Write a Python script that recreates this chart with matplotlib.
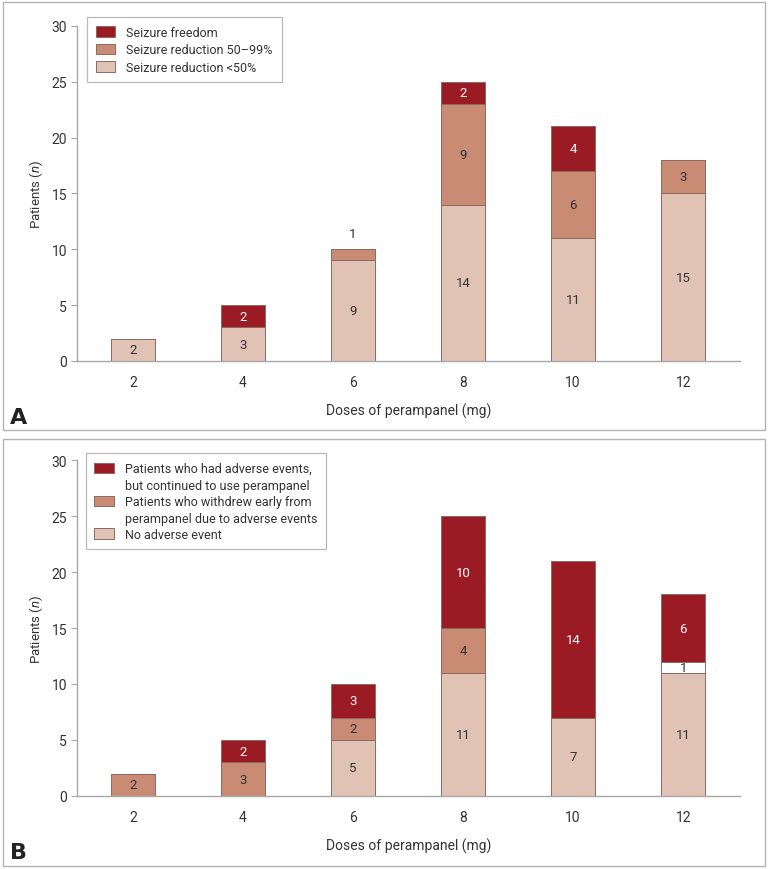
import numpy as np
import matplotlib
matplotlib.use('Agg')
import matplotlib.pyplot as plt
from matplotlib.patches import Rectangle

plt.rcParams['font.family'] = ['Roboto', 'DejaVu Sans']
plt.rcParams['mathtext.fontset'] = 'custom'
plt.rcParams['mathtext.it'] = 'Roboto:italic'
plt.rcParams['mathtext.rm'] = 'Roboto'

doses = ['2', '4', '6', '8', '10', '12']

# panel A: seizure outcome
a_below50 = [2, 3, 9, 14, 11, 15]
a_reduction = [0, 0, 1, 9, 6, 3]
a_freedom = [0, 2, 0, 2, 4, 0]
a_labels = ['Seizure freedom', 'Seizure reduction 50\u201399%', 'Seizure reduction <50%']

# panel B: adverse events
b_no_ae = [0, 0, 5, 11, 7, 11]
b_withdrew = [2, 3, 2, 4, 0, 0]
b_other = [0, 0, 0, 0, 0, 1]
b_continued = [0, 2, 3, 10, 14, 6]
b_labels = ['Patients who had adverse events,\nbut continued to use perampanel',
            'Patients who withdrew early from\nperampanel due to adverse events',
            'No adverse event']

DARK = '#9a1b24'
MID = '#c98b74'
LIGHT = '#e1c3b5'
EDGE = '#8c6a62'
GREY = '#a8a8a8'
TXT = '#333333'

fig = plt.figure(figsize=(7.68, 8.7), dpi=100)

# panel frames
for y0, h in [(0.505, 0.4916), (0.0034, 0.4906)]:
    fig.patches.append(Rectangle((0.004, y0), 0.992, h, transform=fig.transFigure,
                                 fill=False, edgecolor='#b4b4b4', linewidth=1.0))

axA = fig.add_axes([0.100, 0.584, 0.864, 0.385])
axB = fig.add_axes([0.100, 0.084, 0.864, 0.386])

x = np.arange(len(doses))
w = 0.4


def seg_label(ax, xi, bottom, val, color, above=False):
    if val == 0:
        return
    if above:
        ax.text(xi, bottom + val + 0.8, str(val), ha='center', va='bottom', fontsize=9.5, color=TXT)
    else:
        ax.text(xi, bottom + val / 2, str(val), ha='center', va='center', fontsize=9.5, color=color)


def style(ax):
    ax.set_xlim(-0.51, 5.52)
    ax.set_ylim(0, 30)
    ax.set_yticks(range(0, 31, 5))
    ax.set_xticks(x)
    ax.set_xticklabels(doses)
    for s in ['top', 'right']:
        ax.spines[s].set_visible(False)
    for s in ['left', 'bottom']:
        ax.spines[s].set_color(GREY)
        ax.spines[s].set_linewidth(1.0)
    ax.tick_params(axis='y', colors=GREY, labelcolor=TXT, labelsize=10, length=4, width=0.8, pad=3)
    ax.tick_params(axis='x', length=0, labelcolor=TXT, labelsize=10, pad=10)
    ax.set_ylabel('Patients ($\\it{n}$)', fontsize=9.5, color=TXT, labelpad=5)
    ax.set_xlabel('Doses of perampanel (mg)', fontsize=10, color=TXT, labelpad=10)


leg_kw = dict(loc='upper left', fontsize=9, frameon=True, fancybox=False, edgecolor=GREY,
              handlelength=1.55, handleheight=0.95, handletextpad=0.9, borderpad=0.7,
              labelcolor=TXT)

# ---- panel A ----
b0 = np.zeros(len(doses))
hA3 = axA.bar(x, a_below50, w, bottom=b0, color=LIGHT, edgecolor=EDGE, linewidth=0.7)
b1 = b0 + a_below50
hA2 = axA.bar(x, a_reduction, w, bottom=b1, color=MID, edgecolor=EDGE, linewidth=0.7)
b2 = b1 + a_reduction
hA1 = axA.bar(x, a_freedom, w, bottom=b2, color=DARK, edgecolor=EDGE, linewidth=0.7)
for i in range(len(doses)):
    seg_label(axA, x[i], b0[i], a_below50[i], TXT)
    seg_label(axA, x[i], b1[i], a_reduction[i], TXT, above=(a_reduction[i] == 1))
    seg_label(axA, x[i], b2[i], a_freedom[i], 'white')
style(axA)
legA = axA.legend([hA1, hA2, hA3], a_labels, bbox_to_anchor=(0.006, 1.045),
                  labelspacing=0.35, **leg_kw)
legA.get_frame().set_linewidth(0.9)

# ---- panel B ----
c0 = np.zeros(len(doses))
hB3 = axB.bar(x, b_no_ae, w, bottom=c0, color=LIGHT, edgecolor=EDGE, linewidth=0.7)
c1 = c0 + b_no_ae
hB2 = axB.bar(x, b_withdrew, w, bottom=c1, color=MID, edgecolor=EDGE, linewidth=0.7)
c2 = c1 + b_withdrew
axB.bar(x, b_other, w, bottom=c2, color='white', edgecolor=EDGE, linewidth=0.7)
c3 = c2 + b_other
hB1 = axB.bar(x, b_continued, w, bottom=c3, color=DARK, edgecolor=EDGE, linewidth=0.7)
for i in range(len(doses)):
    seg_label(axB, x[i], c0[i], b_no_ae[i], TXT)
    seg_label(axB, x[i], c1[i], b_withdrew[i], TXT)
    seg_label(axB, x[i], c2[i], b_other[i], TXT)
    seg_label(axB, x[i], c3[i], b_continued[i], 'white')
style(axB)
legB = axB.legend([hB1, hB2, hB3], b_labels, bbox_to_anchor=(0.004, 1.04),
                  labelspacing=0.2, **leg_kw)
legB.get_frame().set_linewidth(0.9)
for t in legB.get_texts():
    t.set_linespacing(1.45)
# two-line entries: keep the swatch level with the first line
for h in legB.legend_handles[:2]:
    h.set_y(h.get_y() + 7)

# panel letters
fig.text(0.013, 0.519, 'A', fontsize=16, fontweight='bold', family='DejaVu Sans',
         ha='left', va='center', color='#222222')
fig.text(0.013, 0.020, 'B', fontsize=16, fontweight='bold', family='DejaVu Sans',
         ha='left', va='center', color='#222222')

fig.savefig('out.png', dpi=100)
